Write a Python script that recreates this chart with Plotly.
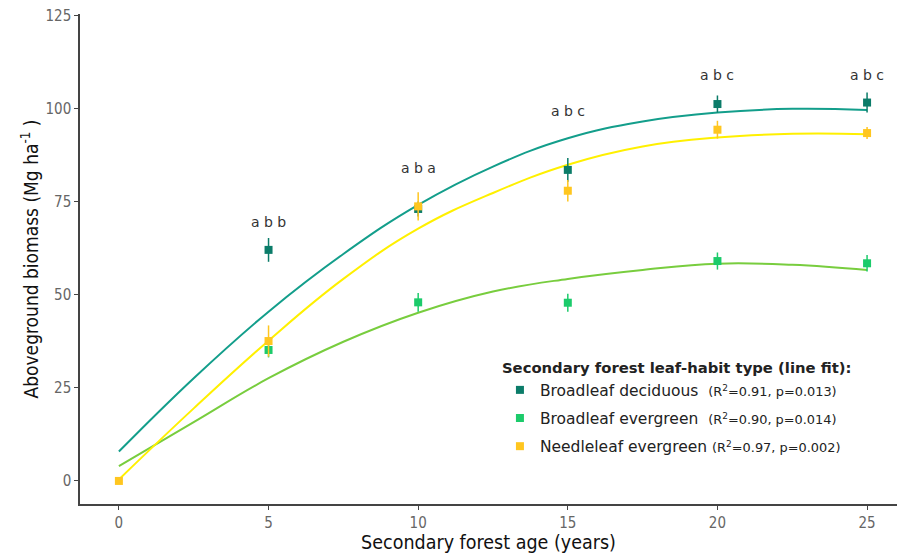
import plotly.graph_objects as go

# ---- data ----
ages = [0, 5, 10, 15, 20, 25]
bd_vals = [None, 62.1, 73.1, 83.6, 101.3, 101.7]
bd_err = [None, 3.2, 2.0, 3.2, 2.3, 2.7]
be_vals = [None, 35.2, 48.0, 47.9, 59.1, 58.5]
be_err = [None, 2.0, 2.5, 2.4, 2.3, 2.2]
ne_vals = [0.0, 37.6, 73.8, 78.0, 94.4, 93.5]
ne_err = [0.0, 4.2, 3.8, 2.9, 2.4, 1.6]

fit_x = [0, 2.5, 5, 7.5, 10, 12.5, 15, 17.5, 20, 22.5, 25]
bd_fit = [7.9, 27.6, 45.5, 61.0, 74.2, 84.5, 92.1, 96.6, 99.0, 100.0, 99.7]
be_fit = [4.0, 15.8, 27.6, 37.4, 45.2, 50.9, 54.3, 56.7, 58.4, 58.1, 56.7]
ne_fit = [0.4, 19.5, 37.7, 54.3, 67.8, 77.4, 85.0, 89.9, 92.3, 93.3, 93.2]

letter_x = [5, 10, 15, 20, 25]
letter_y = [69.6, 84.0, 99.5, 109.0, 109.0]
letters = ["a b b", "a b a", "a b c", "a b c", "a b c"]

names = [
    "Broadleaf deciduous  <span style='font-size:12.9px'>(R<sup>2</sup>=0.91, p=0.013)</span>",
    "Broadleaf evergreen  <span style='font-size:12.9px'>(R<sup>2</sup>=0.90, p=0.014)</span>",
    "Needleleaf evergreen <span style='font-size:12.9px'>(R<sup>2</sup>=0.97, p=0.002)</span>",
]

marker_cols = ["#0b7c69", "#1ccb6b", "#ffc61f"]
line_cols = ["#139e8b", "#78cd3e", "#fff000"]

fig = go.Figure()

fits = [bd_fit, be_fit, ne_fit]
for f, c in zip(fits, line_cols):
    fig.add_trace(go.Scatter(x=fit_x, y=f, mode="lines", line=dict(color=c, width=2, shape="spline", smoothing=1.2),
                             showlegend=False, hoverinfo="skip"))

series = [(bd_vals, bd_err), (be_vals, be_err), (ne_vals, ne_err)]
for i, ((v, e), mc, nm) in enumerate(zip(series, marker_cols, names)):
    fig.add_trace(go.Scatter(
        x=ages, y=v, mode="markers", name=nm, legendgroup=f"g{i}",
        marker=dict(symbol="square", size=8, color=mc),
        error_y=dict(type="data", array=e, color=mc, thickness=1.5, width=0),
    ))

for lx, ly, t in zip(letter_x, letter_y, letters):
    fig.add_annotation(x=lx, y=ly, text=t, showarrow=False,
                       font=dict(family="DejaVu Sans", size=14, color="#333333"))

fig.update_layout(
    width=899, height=554,
    margin=dict(l=80, r=2, t=14, b=50),
    plot_bgcolor="white", paper_bgcolor="white",
    font=dict(family="Liberation Sans Narrow, DejaVu Sans Condensed, Liberation Sans, Arial", color="#555555"),
    legend=dict(
        x=0.514, y=0.306, xanchor="left", yanchor="top",
        title=dict(text="<b>Secondary forest leaf-habit type (line fit):</b>",
                   font=dict(family="DejaVu Sans", size=14.8, color="#222222")),
        font=dict(family="DejaVu Sans", size=15.5, color="#222222"),
        tracegroupgap=5, bgcolor="rgba(0,0,0,0)",
    ),
    xaxis=dict(
        range=[-1.3, 26.0], tickvals=[0, 5, 10, 15, 20, 25], automargin=False,
        showgrid=False, zeroline=False, showline=True, linecolor="#444444", linewidth=1.5,
        ticks="outside", ticklen=4, tickcolor="#444444",
        tickfont=dict(size=15, color="#666666"),
        title=dict(text="Secondary forest age (years)", standoff=3,
                   font=dict(size=19.5, color="#111111")),
    ),
    yaxis=dict(
        range=[-6.2, 125.5], tickvals=[0, 25, 50, 75, 100, 125], automargin=False,
        showgrid=False, zeroline=False, showline=True, linecolor="#444444", linewidth=1.5,
        ticks="outside", ticklen=4, tickcolor="#444444",
        tickfont=dict(size=15, color="#666666"),
        title=dict(text="Aboveground biomass (Mg ha<sup>-1</sup> )", standoff=2,
                   font=dict(size=19, color="#111111")),
    ),
)

fig.write_html("out.html", config={"displayModeBar": False},
               post_script="document.body.style.margin='0px';document.body.style.overflow='hidden';")
